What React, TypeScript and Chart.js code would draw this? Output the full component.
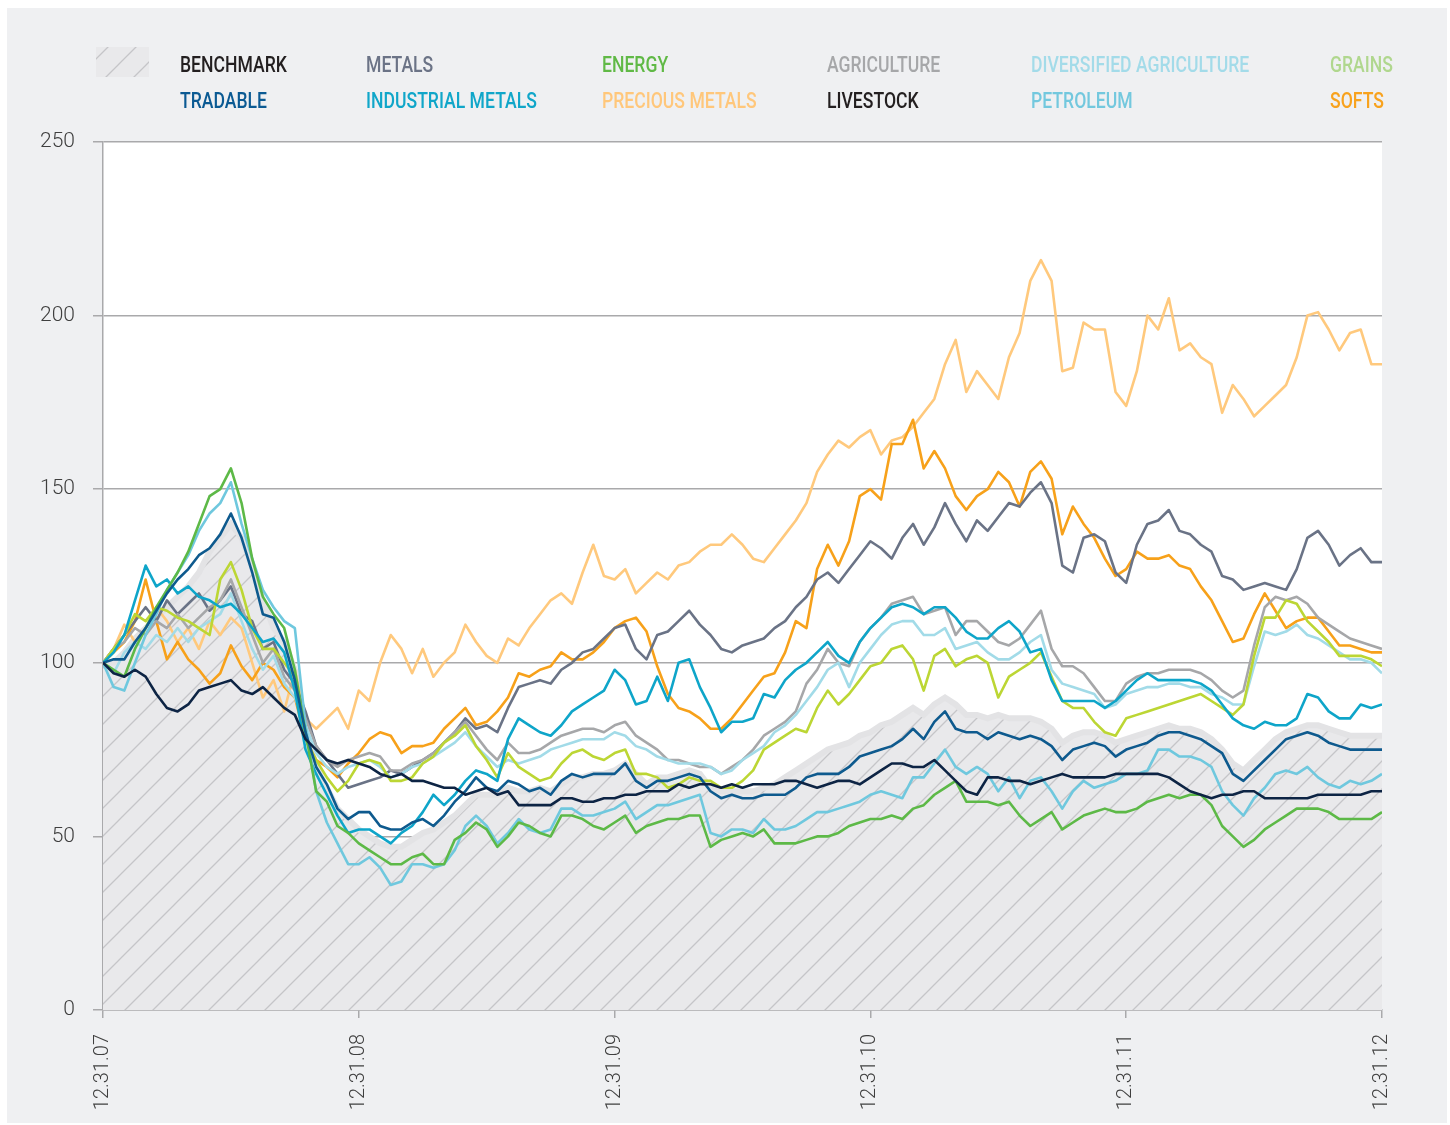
import React, { useEffect, useRef } from 'react';
import { Chart, registerables } from 'chart.js';

Chart.register(...registerables);

// Tick labels
const yearTicks = ['12.31.07', '12.31.08', '12.31.09', '12.31.10', '12.31.11', '12.31.12'];

// Legend (two rows, six columns)
const legendRow1 = ['BENCHMARK', 'METALS', 'ENERGY', 'AGRICULTURE', 'DIVERSIFIED AGRICULTURE', 'GRAINS'];
const legendRow2 = ['TRADABLE', 'INDUSTRIAL METALS', 'PRECIOUS METALS', 'LIVESTOCK', 'PETROLEUM', 'SOFTS'];

// Semi-monthly index levels, 12.31.07 = 100 (121 samples, 24 per year)
const benchmark = [
  100, 100, 103, 107, 110, 113, 116, 119, 122, 126, 132, 136, 140, 136, 128, 118, 110, 106, 98,
  82, 70, 64, 58, 55, 52, 50, 48, 47, 47, 49, 51, 52, 54, 56, 59, 62,
  62, 62, 64, 63, 63, 64, 63, 65, 67, 67, 68, 68,
  69, 71, 68, 65, 67, 67, 68, 69, 68, 64, 63, 63, 63, 63, 64, 65, 67, 69,
  71, 73, 75, 76, 77, 79, 80, 82, 83, 85, 87, 85, 88, 90, 88, 85, 85, 84, 85, 84,
  84, 84, 83, 81, 77, 79, 80, 80, 79, 77, 78, 79, 80, 81, 82, 81, 81, 80, 78, 75,
  71, 69, 72, 75, 78, 80, 81, 82, 82, 81, 80, 79, 79, 79, 79,
];

const tradable = [
  100, 101, 101, 106, 110, 115, 120, 124, 127, 131, 133, 137, 143, 136, 126, 114, 113, 106, 95,
  80, 70, 65, 58, 55, 57, 57, 53, 52, 52, 54, 55, 53, 56, 60, 63, 67,
  64, 63, 66, 65, 63, 64, 62, 66, 68, 67, 68, 68,
  68, 71, 66, 64, 66, 66, 67, 68, 67, 63, 61, 62, 61, 61, 62, 62, 62, 64,
  67, 68, 68, 68, 70, 73, 74, 75, 76, 78, 81, 78, 83, 86, 81, 80, 80, 78, 80, 79,
  78, 79, 78, 76, 72, 75, 76, 77, 76, 73, 75, 76, 77, 79, 80, 80, 79, 78, 76, 74,
  68, 66, 69, 72, 75, 78, 79, 80, 79, 77, 76, 75, 75, 75, 75,
];

const metals = [
  100, 104, 108, 112, 116, 112, 118, 114, 117, 120, 115, 118, 122, 114, 112, 104, 106, 98, 94,
  86, 76, 72, 68, 64, 65, 66, 67, 69, 68, 70, 72, 74, 77, 80, 84, 81,
  82, 80, 87, 93, 94, 95, 94, 98, 100, 103, 104, 107,
  110, 111, 104, 101, 108, 109, 112, 115, 111, 108, 104, 103, 105, 106, 107, 110, 112, 116,
  119, 124, 126, 123, 127, 131, 135, 133, 130, 136, 140, 134, 139, 146, 140, 135, 141, 138, 142, 146,
  145, 149, 152, 146, 128, 126, 136, 137, 135, 126, 123, 134, 140, 141, 144, 138, 137, 134, 132, 125,
  124, 121, 122, 123, 122, 121, 127, 136, 138, 134, 128, 131, 133, 129, 129,
];

const industrialMetals = [
  100, 103, 108, 118, 128, 122, 124, 120, 122, 119, 118, 116, 117, 114, 110, 106, 107, 103, 92,
  75, 68, 62, 56, 51, 52, 52, 50, 48, 51, 53, 57, 62, 59, 62, 66, 69,
  68, 66, 78, 84, 82, 80, 79, 82, 86, 88, 90, 92,
  98, 95, 88, 89, 96, 89, 100, 101, 93, 87, 80, 83, 83, 84, 91, 90, 95, 98,
  100, 103, 106, 102, 100, 106, 110, 113, 116, 117, 116, 114, 116, 116, 113, 109, 107, 107, 110, 112,
  109, 103, 104, 95, 89, 89, 89, 89, 87, 89, 92, 95, 97, 95, 95, 95, 95, 94, 92, 88,
  84, 82, 81, 83, 82, 82, 84, 91, 90, 86, 84, 84, 88, 87, 88,
];

const energy = [
  100, 98, 96, 104, 110, 116, 121, 126, 132, 140, 148, 150, 156, 146, 130, 119, 114, 110, 98,
  80, 63, 60, 53, 51, 48, 46, 44, 42, 42, 44, 45, 42, 42, 49, 51, 54,
  52, 47, 50, 54, 53, 51, 50, 56, 56, 55, 53, 52,
  54, 56, 51, 53, 54, 55, 55, 56, 56, 47, 49, 50, 51, 50, 52, 48, 48, 48,
  49, 50, 50, 51, 53, 54, 55, 55, 56, 55, 58, 59, 62, 64, 66, 60, 60, 60, 59, 60,
  56, 53, 55, 57, 52, 54, 56, 57, 58, 57, 57, 58, 60, 61, 62, 61, 62, 62, 59, 53,
  50, 47, 49, 52, 54, 56, 58, 58, 58, 57, 55, 55, 55, 55, 57,
];

const preciousMetals = [
  100, 104, 111, 106, 110, 116, 112, 106, 110, 104, 112, 108, 113, 110, 100, 90, 95, 86, 98,
  84, 81, 84, 87, 81, 92, 89, 100, 108, 104, 97, 104, 96, 100, 103, 111, 106,
  102, 100, 107, 105, 110, 114, 118, 120, 117, 126, 134, 125,
  124, 127, 120, 123, 126, 124, 128, 129, 132, 134, 134, 137, 134, 130, 129, 133, 137, 141,
  146, 155, 160, 164, 162, 165, 167, 160, 164, 165, 168, 172, 176, 186, 193, 178, 184, 180, 176, 188,
  195, 210, 216, 210, 184, 185, 198, 196, 196, 178, 174, 184, 200, 196, 205, 190, 192, 188, 186, 172,
  180, 176, 171, 174, 177, 180, 188, 200, 201, 196, 190, 195, 196, 186, 186,
];

const agriculture = [
  100, 104, 106, 110, 108, 112, 110, 114, 110, 113, 116, 118, 124, 116, 108, 100, 104, 96, 92,
  84, 76, 72, 70, 72, 73, 74, 73, 69, 69, 71, 72, 74, 77, 80, 83, 79,
  75, 72, 77, 74, 74, 75, 77, 79, 80, 81, 81, 80,
  82, 83, 79, 77, 75, 72, 72, 71, 70, 70, 68, 70, 72, 75, 79, 81, 83, 86,
  94, 98, 104, 100, 99, 106, 110, 113, 117, 118, 119, 114, 115, 116, 108, 112, 112, 109, 106, 105,
  107, 111, 115, 104, 99, 99, 97, 93, 89, 89, 94, 96, 97, 97, 98, 98, 98, 97, 95, 92,
  90, 92, 105, 116, 119, 118, 119, 117, 113, 111, 109, 107, 106, 105, 104,
];

const livestock = [
  100, 97, 96, 98, 96, 91, 87, 86, 88, 92, 93, 94, 95, 92, 91, 93, 90, 87, 85,
  78, 75, 72, 71, 72, 71, 70, 68, 67, 68, 66, 66, 65, 64, 64, 62, 63,
  64, 62, 63, 59, 59, 59, 59, 61, 61, 60, 60, 61,
  61, 62, 62, 63, 63, 63, 65, 64, 65, 65, 64, 65, 64, 65, 65, 65, 66, 66,
  65, 64, 65, 66, 66, 65, 67, 69, 71, 71, 70, 70, 72, 69, 66, 63, 62, 67, 67, 66,
  66, 65, 66, 67, 68, 67, 67, 67, 67, 68, 68, 68, 68, 68, 67, 65, 63, 62, 61, 62,
  62, 63, 63, 61, 61, 61, 61, 61, 62, 62, 62, 62, 62, 63, 63,
];

const diversifiedAgriculture = [
  100, 97, 103, 106, 104, 108, 106, 110, 106, 110, 112, 114, 120, 112, 104, 98, 102, 94, 90,
  82, 74, 70, 68, 70, 71, 72, 70, 67, 68, 70, 71, 73, 75, 77, 80, 76,
  73, 70, 72, 71, 72, 73, 75, 76, 77, 78, 78, 78,
  80, 79, 76, 75, 73, 72, 71, 71, 71, 70, 68, 69, 72, 74, 76, 80, 82, 85,
  89, 93, 98, 100, 93, 100, 104, 108, 111, 112, 112, 108, 108, 110, 104, 105, 106, 103, 101, 101,
  103, 106, 108, 98, 94, 93, 92, 91, 87, 88, 91, 92, 93, 93, 94, 94, 93, 93, 91, 90,
  88, 88, 99, 109, 108, 109, 111, 108, 107, 105, 103, 101, 101, 100, 97,
];

const petroleum = [
  100, 93, 92, 100, 108, 114, 121, 126, 131, 138, 143, 146, 152, 140, 130, 121, 116, 112, 110,
  82, 63, 54, 48, 42, 42, 44, 41, 36, 37, 42, 42, 41, 42, 46, 53, 56,
  53, 48, 51, 55, 52, 51, 52, 58, 58, 56, 56, 57,
  58, 60, 55, 57, 59, 59, 60, 61, 62, 51, 50, 52, 52, 51, 55, 52, 52, 53,
  55, 57, 57, 58, 59, 60, 62, 63, 62, 61, 67, 67, 71, 75, 70, 68, 70, 68, 63, 67,
  61, 66, 67, 63, 58, 63, 66, 64, 65, 66, 68, 68, 69, 75, 75, 73, 73, 72, 70, 63,
  59, 56, 61, 64, 68, 69, 68, 70, 67, 65, 64, 66, 65, 66, 68,
];

const grains = [
  100, 104, 108, 114, 112, 116, 115, 113, 112, 110, 108, 124, 129, 121, 110, 104, 104, 100, 96,
  78, 72, 67, 63, 66, 71, 72, 71, 66, 66, 67, 71, 73, 77, 79, 82, 76,
  72, 67, 74, 70, 68, 66, 67, 71, 74, 75, 73, 72,
  74, 75, 68, 68, 67, 64, 65, 67, 66, 66, 64, 64, 66, 69, 75, 77, 79, 81,
  80, 87, 92, 88, 91, 95, 99, 100, 104, 105, 101, 92, 102, 104, 99, 101, 102, 100, 90, 96,
  98, 100, 103, 96, 89, 87, 87, 83, 80, 79, 84, 85, 86, 87, 88, 89, 90, 91, 89, 87,
  85, 88, 102, 113, 113, 118, 117, 112, 109, 106, 102, 102, 102, 101, 99,
];

const softs = [
  100, 103, 106, 112, 124, 112, 101, 106, 101, 98, 94, 97, 105, 99, 95, 100, 98, 93, 90,
  78, 72, 70, 67, 71, 74, 78, 80, 79, 74, 76, 76, 77, 81, 84, 87, 82,
  83, 86, 90, 97, 96, 98, 99, 103, 101, 101, 103, 106,
  110, 112, 113, 109, 99, 91, 87, 86, 84, 81, 81, 84, 88, 92, 96, 97, 103, 112,
  110, 127, 134, 128, 135, 148, 150, 147, 163, 163, 170, 156, 161, 156, 148, 144, 148, 150, 155, 152,
  145, 155, 158, 153, 137, 145, 140, 136, 130, 125, 127, 132, 130, 130, 131, 128, 127, 122, 118, 112,
  106, 107, 114, 120, 115, 110, 112, 113, 113, 109, 105, 105, 104, 103, 103,
];

// Line series (first one is drawn on top)
const lineSeries = [
  { label: 'LIVESTOCK', data: livestock, color: '#0d2444' },
  { label: 'TRADABLE', data: tradable, color: '#0e5a8e' },
  { label: 'ENERGY', data: energy, color: '#5db947' },
  { label: 'PETROLEUM', data: petroleum, color: '#6fc8de' },
  { label: 'INDUSTRIAL METALS', data: industrialMetals, color: '#0ea5c9' },
  { label: 'GRAINS', data: grains, color: '#bcd634' },
  { label: 'DIVERSIFIED AGRICULTURE', data: diversifiedAgriculture, color: '#a2dbe8' },
  { label: 'AGRICULTURE', data: agriculture, color: '#a6a7a9' },
  { label: 'METALS', data: metals, color: '#6a7386' },
  { label: 'SOFTS', data: softs, color: '#f7a11a' },
  { label: 'PRECIOUS METALS', data: preciousMetals, color: '#ffc97d' },
];

const legendColors1 = ['#231f20', '#6b7386', '#60b946', '#a6a7a9', '#a3dbe9', '#b0d78e'];
const legendColors2 = ['#0b5a93', '#10a6c9', '#ffc77b', '#231f20', '#73c8de', '#f8a21d'];

const W = 1440;
const H = 1115;

function makeHatch(): CanvasPattern | string {
  const s = 28;
  const pc = document.createElement('canvas');
  pc.width = s;
  pc.height = s;
  const p = pc.getContext('2d');
  if (!p) return '#e9e9eb';
  p.fillStyle = '#e9e9eb';
  p.fillRect(0, 0, s, s);
  p.strokeStyle = '#c5c5c8';
  p.lineWidth = 1.3;
  p.beginPath();
  p.moveTo(0, s);
  p.lineTo(s, 0);
  p.moveTo(-3, 3);
  p.lineTo(3, -3);
  p.moveTo(s - 3, s + 3);
  p.lineTo(s + 3, s - 3);
  p.stroke();
  const pat = p.createPattern(pc, 'repeat');
  return pat || '#e9e9eb';
}

export default function App() {
  const ref = useRef<HTMLCanvasElement | null>(null);

  useEffect(() => {
    const canvas = ref.current;
    if (!canvas) return;
    const hatch = makeHatch();

    const bgPlugin = {
      id: 'bgPanel',
      beforeDraw(chart: any) {
        const { ctx, chartArea } = chart;
        ctx.save();
        ctx.fillStyle = '#eff0f2';
        ctx.fillRect(0, 0, chart.width, chart.height);
        ctx.fillStyle = '#ffffff';
        ctx.fillRect(chartArea.left, chartArea.top, chartArea.right - chartArea.left, chartArea.bottom - chartArea.top);
        ctx.restore();
      },
    };

    const legendX = [173, 359, 595, 820, 1024, 1323];
    const legendY = [64, 100];
    const legendPlugin = {
      id: 'gridLegend',
      afterDraw(chart: any) {
        const ctx = chart.ctx;
        ctx.save();
        ctx.fillStyle = hatch;
        ctx.fillRect(89, 39, 53, 30);
        ctx.font = '500 22px Roboto';
        ctx.textBaseline = 'alphabetic';
        ctx.textAlign = 'left';
        const rows = [legendRow1, legendRow2];
        const cols = [legendColors1, legendColors2];
        rows.forEach((row, r) => {
          row.forEach((label, c) => {
            ctx.save();
            ctx.translate(legendX[c], legendY[r]);
            ctx.scale(0.8, 1);
            ctx.fillStyle = cols[r][c];
            ctx.fillText(label, 0, 0);
            ctx.restore();
          });
        });
        ctx.restore();
      },
    };

    const datasets: any[] = lineSeries.map((s, k) => ({
      label: s.label,
      data: s.data.map((v, i) => ({ x: i, y: v })),
      borderColor: s.color,
      backgroundColor: s.color,
      borderWidth: 2.6,
      pointRadius: 0,
      tension: 0,
      fill: false,
      borderJoinStyle: 'round',
      order: k,
    }));
    datasets.push({
      label: 'BENCHMARK',
      data: benchmark.map((v, i) => ({ x: i, y: v })),
      borderColor: '#e3e3e5',
      backgroundColor: hatch,
      borderWidth: 6,
      pointRadius: 0,
      tension: 0,
      fill: 'origin',
      order: 99,
    });

    const gridColor = '#a9a9ab';
    const chart = new Chart(canvas, {
      type: 'line',
      data: { datasets },
      options: {
        animation: false,
        responsive: false,
        devicePixelRatio: 1,
        layout: { padding: { top: 134, right: 65, left: 0, bottom: 0 } },
        plugins: { legend: { display: false }, tooltip: { enabled: false } },
        scales: {
          x: {
            type: 'linear',
            min: 0,
            max: 120,
            ticks: {
              stepSize: 24,
              autoSkip: false,
              minRotation: 90,
              maxRotation: 90,
              padding: 16,
              color: '#3f3f3f',
              font: { family: 'Roboto', size: 20, weight: '300' },
              callback: (v: any) => yearTicks[Math.round(Number(v) / 24)] ?? '',
            },
            grid: { drawOnChartArea: false, drawTicks: true, tickLength: 8, color: gridColor, lineWidth: 1.5 },
            border: { display: true, color: gridColor, width: 1.5 },
            afterFit: (s: any) => { s.height = 113; },
          },
          y: {
            min: 0,
            max: 250,
            ticks: {
              stepSize: 50,
              padding: 18,
              color: '#3f3f3f',
              font: { family: 'Roboto', size: 21, weight: '300' },
            },
            grid: { color: gridColor, lineWidth: 1.5, tickLength: 10, drawTicks: true },
            border: { display: true, color: gridColor, width: 1.5 },
            afterFit: (s: any) => { s.width = 96; },
          },
        },
      },
      plugins: [bgPlugin, legendPlugin],
    } as any);

    return () => chart.destroy();
  }, []);

  return (
    <div style={{ position: 'fixed', left: 7, top: 8, width: W, height: H }}>
      <canvas ref={ref} width={W} height={H} style={{ width: W, height: H, display: 'block' }} />
    </div>
  );
}
